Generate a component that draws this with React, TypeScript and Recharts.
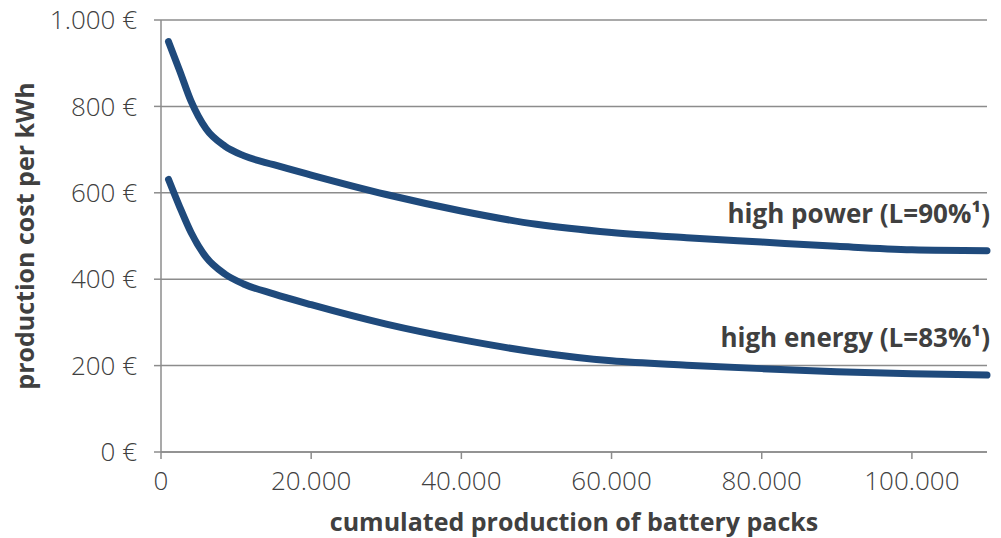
import { LineChart, Line, XAxis, YAxis, CartesianGrid, ReferenceDot, Label } from 'recharts';

// cumulated battery packs produced
const packs = [1000, 2500, 4000, 6000, 8500, 11000, 15000, 20000, 30000, 40000, 50000, 60000, 70000, 80000, 90000, 100000, 110000];

// production cost per kWh in €
const highPower = [950, 882, 812, 748, 708, 686, 665, 641, 596, 558, 527, 508, 496, 486, 476, 468, 466];
const highEnergy = [631, 567, 508, 451, 412, 389, 366, 341, 296, 260, 231, 211, 201, 193, 186, 181, 178];

const xTicks = [0, 20000, 40000, 60000, 80000, 100000];
const yTicks = [0, 200, 400, 600, 800, 1000];

const data = packs.map((p, i) => ({ packs: p, power: highPower[i], energy: highEnergy[i] }));

const thousands = (v: number) => String(v).replace(/\B(?=(\d{3})+(?!\d))/g, '.');

const LINE = '#1f4a7c';
const AXIS = '#8c8c8c';
const TEXT = '#404040';
const TITLE = 25;

const tickStyle = { fontSize: 26, fill: TEXT, fontFamily: 'Open Sans', fontWeight: 300 };

const curveLabel = (text: string) => (props: any) => {
  const { viewBox } = props;
  return (
    <text x={viewBox.x + 3} y={viewBox.y} textAnchor="end" fontSize={26} fontWeight={700} fill={TEXT} fontFamily="Open Sans">
      {text}
    </text>
  );
};

export default function App() {
  return (
    <div style={{ position: 'absolute', left: 0, top: 0, width: 1001, height: 538, background: '#fff', fontFamily: 'Open Sans' }}>
      <LineChart width={1001} height={538} data={data} margin={{ top: 20, right: 14, bottom: 0, left: 0 }}>
        <CartesianGrid vertical={false} stroke={AXIS} strokeWidth={1.5} />
        <XAxis
          dataKey="packs"
          type="number"
          domain={[0, 110000]}
          ticks={xTicks}
          tickFormatter={thousands}
          height={86}
          tick={tickStyle}
          tickSize={7}
          tickMargin={13}
          stroke={AXIS}
          strokeWidth={1.5}
        >
          <Label
            content={(props: any) => {
              const vb = props.viewBox;
              return (
                <text x={vb.x + vb.width / 2} y={vb.y + 79} textAnchor="middle" fontSize={TITLE} fontWeight={700} fill={TEXT} fontFamily="Open Sans">
                  cumulated production of battery packs
                </text>
              );
            }}
          />
        </XAxis>
        <YAxis
          type="number"
          domain={[0, 1000]}
          ticks={yTicks}
          tickFormatter={(v: number) => `${thousands(v)} €`}
          width={161}
          tick={tickStyle}
          tickSize={7}
          tickMargin={17}
          stroke={AXIS}
          strokeWidth={1.5}
        >
          <Label
            content={(props: any) => {
              const vb = props.viewBox;
              const cx = vb.x + 34;
              const cy = vb.y + vb.height / 2;
              return (
                <text x={cx} y={cy} transform={`rotate(-90 ${cx} ${cy})`} textAnchor="middle" fontSize={TITLE} fontWeight={700} fill={TEXT} fontFamily="Open Sans">
                  production cost per kWh
                </text>
              );
            }}
          />
        </YAxis>
        <Line type="monotone" dataKey="power" stroke={LINE} strokeWidth={7} strokeLinecap="round" dot={false} isAnimationActive={false} />
        <Line type="monotone" dataKey="energy" stroke={LINE} strokeWidth={7} strokeLinecap="round" dot={false} isAnimationActive={false} />
        <ReferenceDot x={110000} y={530} r={0} fill="none" stroke="none" label={curveLabel('high power (L=90%¹)')} />
        <ReferenceDot x={110000} y={244} r={0} fill="none" stroke="none" label={curveLabel('high energy (L=83%¹)')} />
      </LineChart>
    </div>
  );
}
